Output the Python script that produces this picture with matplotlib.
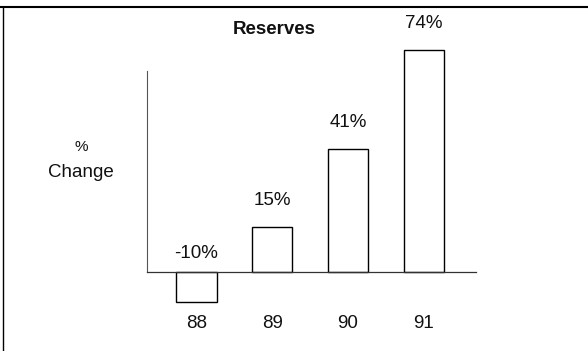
import matplotlib
matplotlib.use("Agg")
import matplotlib.pyplot as plt
from matplotlib.lines import Line2D
from matplotlib.transforms import blended_transform_factory

plt.rcParams['font.family'] = ['Liberation Sans', 'DejaVu Sans']

years = ["88", "89", "90", "91"]
change = [-10, 15, 41, 74]
value_labels = ["-10%", "15%", "41%", "74%"]

W, H = 588, 351
fig = plt.figure(figsize=(W / 100, H / 100), dpi=100)

# plot area in pixels: left 147, right 476, top 15, bottom 305
ax = fig.add_axes([147 / W, (H - 305) / H, (476 - 147) / W, (305 - 15) / H])
x = list(range(len(years)))
ax.bar(x, change, width=0.53, facecolor="white", edgecolor="black", linewidth=1.0)
ax.set_xlim(-0.654, 3.69)
ax.set_ylim(-11, 85.67)

for s in ["top", "right"]:
    ax.spines[s].set_visible(False)
ax.spines["bottom"].set_position(("data", 0))
ax.spines["bottom"].set_color("#333333")
ax.spines["bottom"].set_linewidth(0.9)
ax.spines["left"].set_bounds(0, 67)
ax.spines["left"].set_color("#555555")
ax.spines["left"].set_linewidth(0.8)
ax.set_xticks([])
ax.set_yticks([])
ax.patch.set_visible(False)

# value labels above bars
for xi, v, lab in zip(x, change, value_labels):
    y = max(v, 0)
    off = 13 if v < 0 else 19
    ax.annotate(lab, (xi, y), xytext=(0, off), textcoords="offset points",
                ha="center", va="center", fontsize=13.5, color="#111111")

# year labels under the axis
trans = blended_transform_factory(ax.transData, fig.transFigure)
for xi, yr in zip(x, years):
    ax.text(xi, (H - 323) / H, yr, transform=trans, ha="center", va="center",
            fontsize=13.5, color="#111111")

fig.text(274 / W, (H - 30) / H, "Reserves", ha="center", va="center",
         fontsize=13.5, fontweight="bold", color="#111111")
fig.text(81 / W, (H - 147) / H, "%", ha="center", va="center", fontsize=11, color="#111111")
fig.text(81 / W, (H - 173) / H, "Change", ha="center", va="center", fontsize=13.5, color="#111111")

# outer frame (top and left edges)
fig.add_artist(Line2D([0, 1], [(H - 7) / H] * 2, transform=fig.transFigure,
                      color="black", linewidth=1.5))
fig.add_artist(Line2D([3 / W] * 2, [0, (H - 7) / H], transform=fig.transFigure,
                      color="black", linewidth=1.0))

fig.savefig("out.png", dpi=100)
